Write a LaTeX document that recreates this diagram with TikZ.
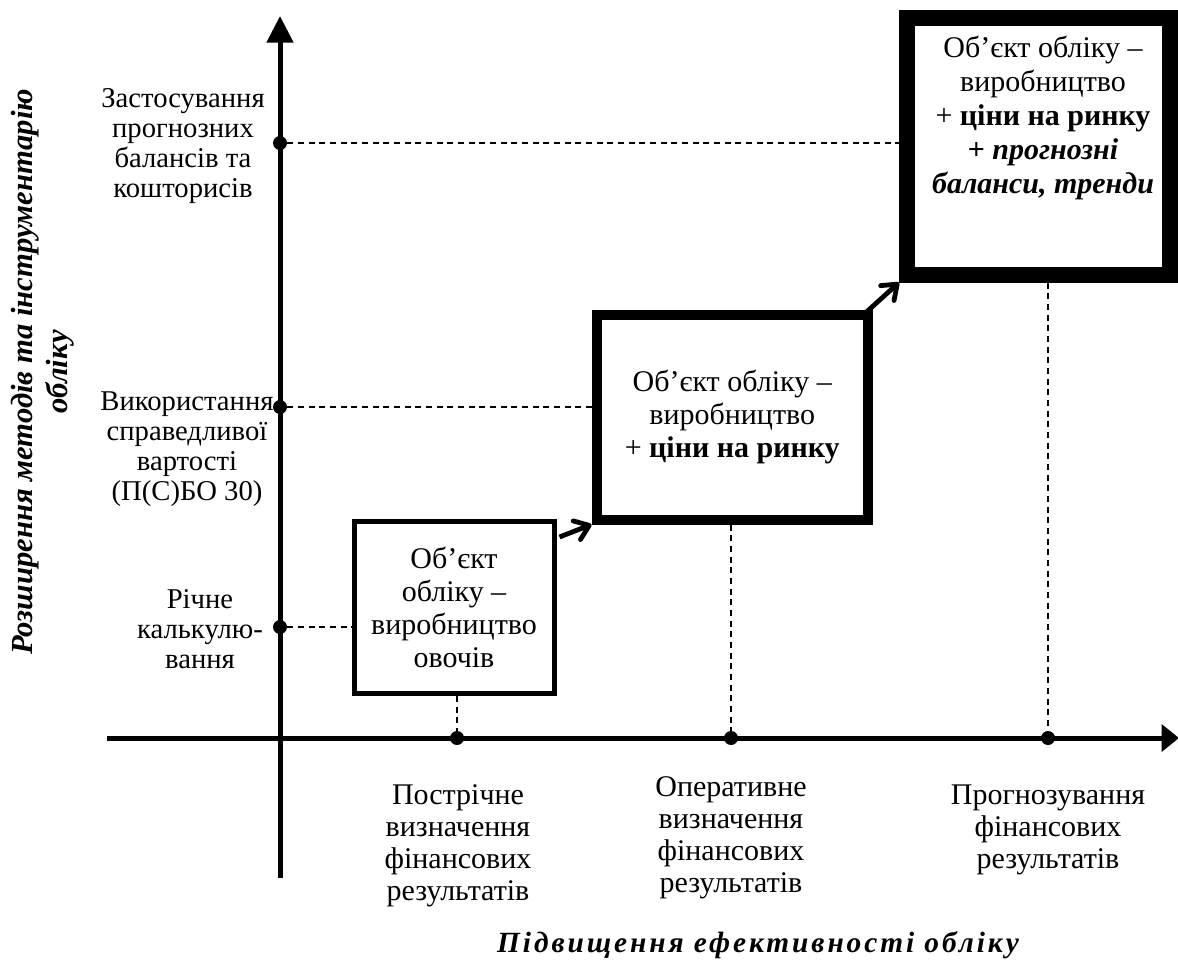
\documentclass[tikz,border=0pt]{standalone}
\usepackage{fontspec}
\setmainfont{Liberation Serif}
\usetikzlibrary{arrows.meta}
\begin{document}
\begin{tikzpicture}[x=0.75pt,y=-0.75pt,
  lbl/.style={align=center, font=\fontsize{21.5}{22.5}\selectfont, inner sep=0pt},
  xlbl/.style={align=center, font=\fontsize{22.5}{24}\selectfont, inner sep=0pt},
  btxt/.style={align=center, font=\fontsize{22.5}{24.75}\selectfont},
  dot/.style={circle, fill=black, inner sep=0pt, minimum size=10.5pt},
  guide/.style={line width=0.9pt, dash pattern=on 4.5pt off 3.5pt},
  axis/.style={line width=3.75pt},
  conn/.style={line width=3.6pt, -{Straight Barb[length=10pt,width=15pt,round]}},
  stage/.style={draw, rectangle, inner sep=0pt}
]
\useasboundingbox (0,0) rectangle (1178,970);

% axes
\coordinate (ybot) at (280,878);
\coordinate (ytop) at (280,16);
\coordinate (xleft) at (107,738);
\coordinate (xright) at (1179,738);
\draw[axis, -{Triangle[length=20pt,width=19.5pt]}] (ybot) -- (ytop);
\draw[axis, -{Triangle[length=13pt,width=20pt]}] (xleft) -- (xright);

% dots
\node[dot] (d1) at (280,143) {};
\node[dot] (d2) at (280,407) {};
\node[dot] (d3) at (280,627) {};
\node[dot] (e1) at (457,738) {};
\node[dot] (e2) at (731,738) {};
\node[dot] (e3) at (1048,738) {};

% boxes
\node[stage, line width=3.75pt, minimum width=150pt, minimum height=129pt, btxt] (b1) at (454,607.5)
  {Об’єкт\\обліку –\\виробництво\\овочів};
\node[stage, line width=7.5pt, minimum width=203.6pt, minimum height=153.75pt, btxt] (b2) at (732.25,417)
  {Об’єкт обліку –\\виробництво\\+ \textbf{ціни на ринку}};
\node[stage, line width=12pt, minimum width=197.25pt, minimum height=192pt] (b3) at (1038.5,146.5) {};
\node[btxt, inner sep=0pt, font=\fontsize{22.5}{25.5}\selectfont] (t3) at (1043,118)
  {Об’єкт обліку –\\виробництво\\+ \textbf{ціни на ринку}\\\textbf{+ \textit{прогнозні}}\\\textbf{\textit{баланси, тренди}}};

% guides
\draw[guide] (d1) -- (d1 -| b3.west);
\draw[guide] (d2) -- (d2 -| b2.west);
\draw[guide] (d3) -- (d3 -| b1.west);
\draw[guide] (e1 |- b1.south) -- (e1);
\draw[guide] (e2 |- b2.south) -- (e2);
\draw[guide] (e3 |- b3.south) -- (e3);

% connectors
\draw[conn] (b1.north east) ++(3,18) -- (b2.south west);
\draw[conn] (b2.north east) ++(-6,2) -- (b3.south west);

% y labels
\node[lbl] (l1) at (183,146) {Застосування\\прогнозних\\балансів та\\кошторисів};
\node[lbl] (l2) at (187,449) {Використання\\справедливої\\вартості\\(П(С)БО 30)};
\node[lbl] (l3) at (200,629) {Річне\\калькулю-\\вання};

% x labels
\node[xlbl] (m1) at (458,846) {Пострічне\\визначення\\фінансових\\результатів};
\node[xlbl] (m2) at (731,837.5) {Оперативне\\визначення\\фінансових\\результатів};
\node[xlbl] (m3) at (1048,830) {Прогнозування\\фінансових\\результатів};

% axis titles
\node[rotate=90, align=center, inner sep=0pt, font=\fontsize{23}{26.5}\selectfont\bfseries\itshape] (ty) at (43,372)
  {Розширення методів та інструментарію\\обліку};
\node[inner sep=0pt, font=\fontsize{22}{26}\selectfont\bfseries\itshape] (tx) at (758,945)
  {\addfontfeature{LetterSpace=10}Підвищення ефективності обліку};
\end{tikzpicture}
\end{document}
